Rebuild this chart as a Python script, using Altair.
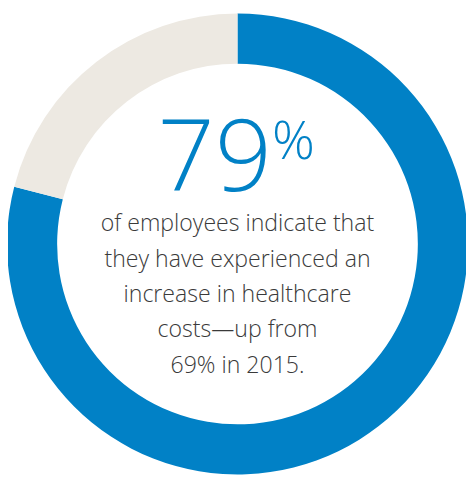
import altair as alt
import pandas as pd

categories = ["Experienced increase", "Other"]
values = [79, 21]
colors = ["#0181C6", "#EDE9E2"]
headline = "79"
headline_suffix = "%"
body_lines = [
    "of employees indicate that",
    "they have experienced an",
    "increase in healthcare",
    "costs\u2014up from",
    "69% in 2015.",
]

df = pd.DataFrame({"category": categories, "value": values, "order": [0, 1]})

W, H = 466, 471
CX, CY = 233.5, 236

ring = alt.Chart(df).mark_arc(outerRadius=234.5, innerRadius=183.5).encode(
    theta=alt.Theta("value:Q", stack=True),
    order=alt.Order("order:Q"),
    color=alt.Color("category:N", scale=alt.Scale(domain=categories, range=colors), legend=None),
    x=alt.value(CX),
    y=alt.value(CY),
)

big = alt.Chart(pd.DataFrame({"t": [headline]})).mark_text(
    font="Open Sans", fontWeight=300, fontSize=102, color="#0181C6",
    align="right", baseline="alphabetic"
).encode(text="t:N", x=alt.value(CX + 35), y=alt.value(182))

pct = alt.Chart(pd.DataFrame({"t": [headline_suffix]})).mark_text(
    font="Open Sans", fontWeight=300, fontSize=54, color="#0181C6",
    align="left", baseline="alphabetic"
).encode(text="t:N", x=alt.value(CX + 35), y=alt.value(150))

body = alt.Chart(pd.DataFrame({"t": ["\n".join(body_lines)]})).mark_text(
    font="Open Sans", fontWeight=300, fontSize=23.5, color="#3a3a3a",
    align="center", baseline="alphabetic", lineBreak="\n", lineHeight=36
).encode(text="t:N", x=alt.value(CX), y=alt.value(223))

chart = alt.layer(ring, big, pct, body).properties(
    width=W, height=H, padding=0, autosize=alt.AutoSizeParams(type="none")
).configure_view(stroke=None)

chart.save("out.html", embed_options={"renderer": "svg", "actions": False})
